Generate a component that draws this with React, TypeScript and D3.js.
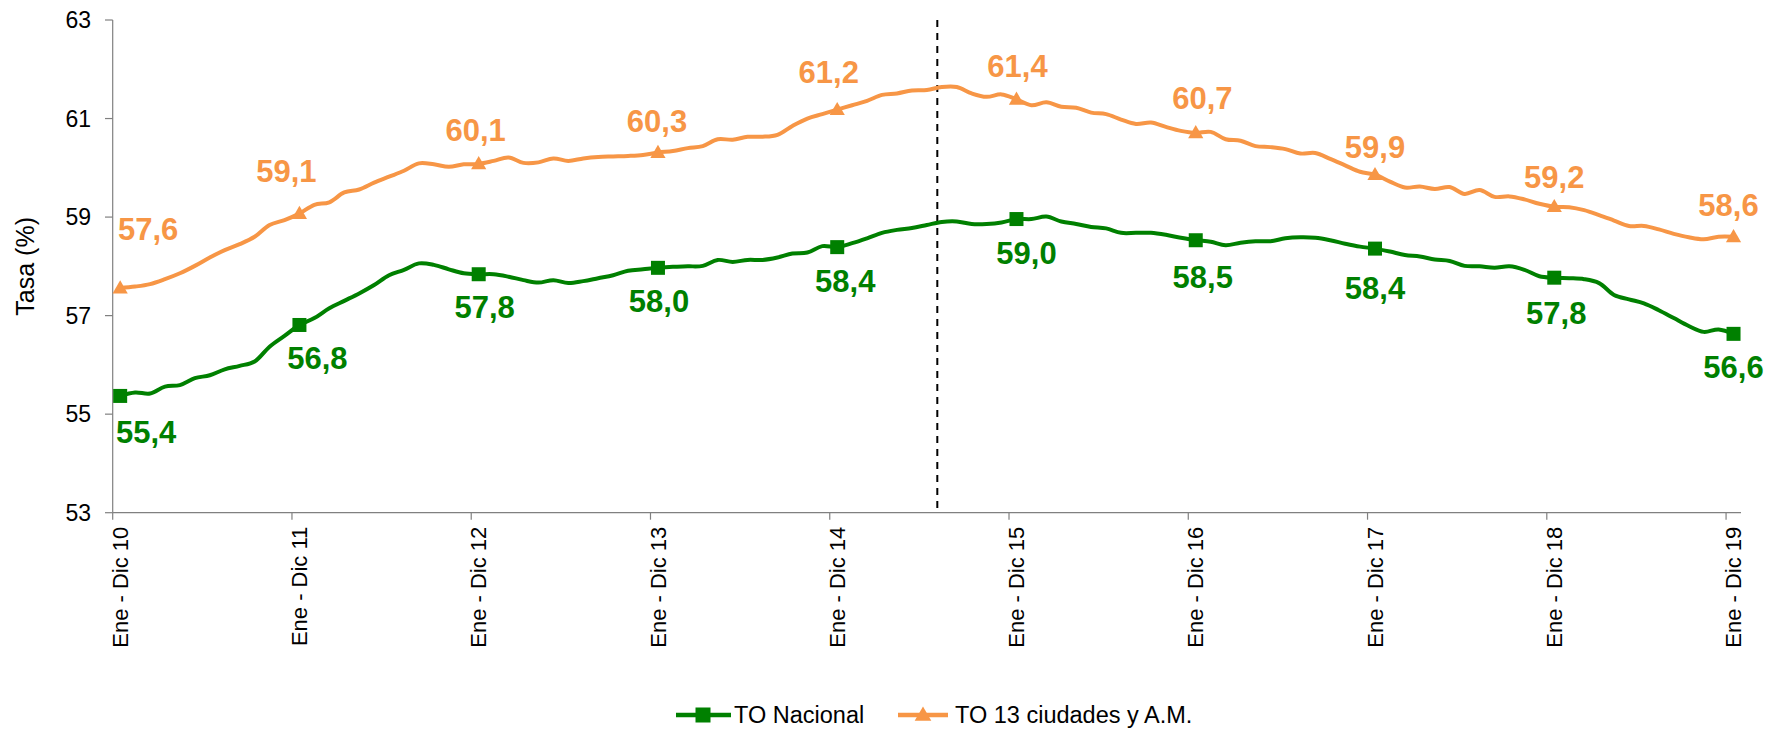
import React from "react";
import * as d3 from "d3";

const W = 1767;
const H = 730;

// Rolling 12-month windows, Ene-Dic 2010 ... Ene-Dic 2019 (109 monthly points)
const tickLabels = [
  "Ene - Dic 10", "Ene - Dic 11", "Ene - Dic 12", "Ene - Dic 13", "Ene - Dic 14",
  "Ene - Dic 15", "Ene - Dic 16", "Ene - Dic 17", "Ene - Dic 18", "Ene - Dic 19",
];
const yTicks = [53, 55, 57, 59, 61, 63];

const toNacional = [
  55.37, 55.44, 55.42, 55.56, 55.59, 55.73, 55.79, 55.91, 55.98, 56.07, 56.37, 56.59,
  56.81, 56.95, 57.15, 57.30, 57.45, 57.62, 57.82, 57.93, 58.06, 58.03, 57.94, 57.86,
  57.84, 57.84, 57.79, 57.72, 57.67, 57.72, 57.66, 57.70, 57.76, 57.82, 57.91, 57.94,
  57.97, 57.99, 58.00, 58.01, 58.13, 58.09, 58.13, 58.13, 58.18, 58.26, 58.28, 58.41,
  58.39, 58.47, 58.57, 58.68, 58.74, 58.78, 58.84, 58.90, 58.91, 58.86, 58.86, 58.89,
  58.96, 58.96, 59.01, 58.91, 58.86, 58.80, 58.77, 58.68, 58.68, 58.68, 58.64, 58.58,
  58.53, 58.50, 58.43, 58.48, 58.51, 58.51, 58.57, 58.59, 58.58, 58.53, 58.46, 58.40,
  58.36, 58.30, 58.23, 58.20, 58.14, 58.11, 58.01, 58.00, 57.97, 58.00, 57.93, 57.80,
  57.77, 57.76, 57.74, 57.66, 57.42, 57.33, 57.25, 57.11, 56.95, 56.79, 56.67, 56.72,
  56.63,
];

const to13Ciudades = [
  57.56, 57.59, 57.64, 57.74, 57.86, 58.01, 58.18, 58.33, 58.45, 58.60, 58.84, 58.94,
  59.07, 59.25, 59.30, 59.50, 59.56, 59.70, 59.82, 59.94, 60.09, 60.07, 60.02, 60.07,
  60.08, 60.14, 60.21, 60.10, 60.11, 60.19, 60.14, 60.19, 60.22, 60.23, 60.24, 60.26,
  60.31, 60.34, 60.40, 60.44, 60.58, 60.57, 60.63, 60.63, 60.67, 60.85, 61.00, 61.09,
  61.18, 61.27, 61.36, 61.48, 61.51, 61.57, 61.58, 61.64, 61.64, 61.51, 61.44, 61.49,
  61.39, 61.27, 61.33, 61.24, 61.22, 61.12, 61.09, 60.98, 60.89, 60.92, 60.83, 60.75,
  60.71, 60.73, 60.58, 60.55, 60.44, 60.42, 60.38, 60.29, 60.30, 60.18, 60.05, 59.92,
  59.86, 59.72, 59.60, 59.62, 59.57, 59.61, 59.47, 59.55, 59.41, 59.42, 59.36, 59.27,
  59.21, 59.20, 59.14, 59.04, 58.93, 58.82, 58.82, 58.75, 58.66, 58.59, 58.55, 58.60,
  58.60,
];

const seriesNames = ["TO Nacional", "TO 13 ciudades y A.M."];
const markerEvery = 12;
const dividerIndex = 55.2; // category position of the dashed separator

// label placement (layout only)
const greenLabelOffsets = [[26, 47], [18, 44.5], [6, 44], [1, 44], [8, 45], [10, 44.6], [7, 47.6], [0, 50], [2, 46.5], [0, 44]];
const orangeLabelOffsets = [[28, -48], [-13, -32], [-3, -23], [-1, -21], [-8.5, -27], [1, -22], [6.6, -24], [0, -17], [0, -19], [-5, -21]];

const GREEN = "#008000";
const ORANGE = "#F79646";
const AXIS = "#808080";
const FONT = "'Liberation Sans', Arial, sans-serif";

const fmt = (v: number) => d3.format(".1f")(v).replace(".", ",");

export default function App() {
  const n = toNacional.length;
  const x = d3.scaleBand<number>().domain(d3.range(n)).range([112.7, 1741]).paddingInner(0).paddingOuter(0);
  const bw = x.bandwidth();
  const cx = (i: number) => (x(i) as number) + bw / 2;
  const y = d3.scaleLinear().domain([53, 63]).range([512.7, 20]);

  const line = d3
    .line<number>()
    .x((_, i) => cx(i))
    .y((d) => y(d))
    .curve(d3.curveCatmullRom.alpha(0.5));

  const markIdx = d3.range(0, n, markerEvery);
  const tri = d3.symbol().type(d3.symbolTriangle).size(100)();
  const sq = 14;

  const xDiv = x.range()[0] + dividerIndex * bw;
  const [y0, y1] = y.range();

  return (
    <svg width={W} height={H} style={{ position: "absolute", left: 0, top: 0, display: "block", background: "#fff" }} fontFamily={FONT}>
      {/* y axis */}
      <line x1={112.7} x2={112.7} y1={y1} y2={y0} stroke={AXIS} strokeWidth={1.2} />
      {yTicks.map((t) => (
        <g key={t}>
          <line x1={105} x2={112.7} y1={y(t)} y2={y(t)} stroke={AXIS} strokeWidth={1.2} />
          <text x={91} y={y(t)} dy="0.35em" textAnchor="end" fontSize={23} fill="#000">
            {t}
          </text>
        </g>
      ))}
      <text transform={`translate(25,${(y0 + y1) / 2}) rotate(-90)`} dy="0.35em" textAnchor="middle" fontSize={25} fill="#000">
        Tasa (%)
      </text>

      {/* x axis */}
      <line x1={x.range()[0]} x2={x.range()[1]} y1={y0} y2={y0} stroke={AXIS} strokeWidth={1.2} />
      {markIdx.map((i, k) => (
        <g key={i}>
          <line x1={x(i) as number} x2={x(i) as number} y1={y0} y2={y0 + 7} stroke={AXIS} strokeWidth={1.2} />
          <text
            transform={`translate(${cx(i)},${y0 + 14}) rotate(-90)`}
            dy="0.35em"
            textAnchor="end"
            fontSize={22}
            fill="#000"
          >
            {tickLabels[k]}
          </text>
        </g>
      ))}

      {/* divider */}
      <line x1={xDiv} x2={xDiv} y1={y1} y2={y0} stroke="#000" strokeWidth={2} strokeDasharray="7,6" />

      {/* series */}
      <path d={line(to13Ciudades) || ""} fill="none" stroke={ORANGE} strokeWidth={4} strokeLinejoin="round" />
      <path d={line(toNacional) || ""} fill="none" stroke={GREEN} strokeWidth={4} strokeLinejoin="round" />

      {markIdx.map((i) => (
        <path key={"t" + i} d={tri || ""} transform={`translate(${cx(i)},${y(to13Ciudades[i]) + 1})`} fill={ORANGE} />
      ))}
      {markIdx.map((i) => (
        <rect key={"s" + i} x={cx(i) - sq / 2} y={y(toNacional[i]) - sq / 2} width={sq} height={sq} fill={GREEN} />
      ))}

      {/* data labels */}
      {markIdx.map((i, k) => (
        <text
          key={"lo" + i}
          x={cx(i) + orangeLabelOffsets[k][0]}
          y={y(to13Ciudades[i]) + orangeLabelOffsets[k][1]}
          textAnchor="middle"
          fontSize={31}
          fontWeight="bold"
          fill={ORANGE}
        >
          {fmt(to13Ciudades[i])}
        </text>
      ))}
      {markIdx.map((i, k) => (
        <text
          key={"lg" + i}
          x={cx(i) + greenLabelOffsets[k][0]}
          y={y(toNacional[i]) + greenLabelOffsets[k][1]}
          textAnchor="middle"
          fontSize={31}
          fontWeight="bold"
          fill={GREEN}
        >
          {fmt(toNacional[i])}
        </text>
      ))}

      {/* legend */}
      <g transform="translate(0,715)">
        <line x1={676} x2={731} y1={0} y2={0} stroke={GREEN} strokeWidth={4.5} />
        <rect x={703 - 7.5} y={-7.5} width={15} height={15} fill={GREEN} />
        <text x={734} y={0} dy="0.35em" fontSize={23.5} fill="#000">
          {seriesNames[0]}
        </text>
        <line x1={898} x2={948} y1={0} y2={0} stroke={ORANGE} strokeWidth={4.5} />
        <path d={d3.symbol().type(d3.symbolTriangle).size(120)() || ""} transform="translate(923,1)" fill={ORANGE} />
        <text x={955} y={0} dy="0.35em" fontSize={23.5} fill="#000">
          {seriesNames[1]}
        </text>
      </g>
    </svg>
  );
}
